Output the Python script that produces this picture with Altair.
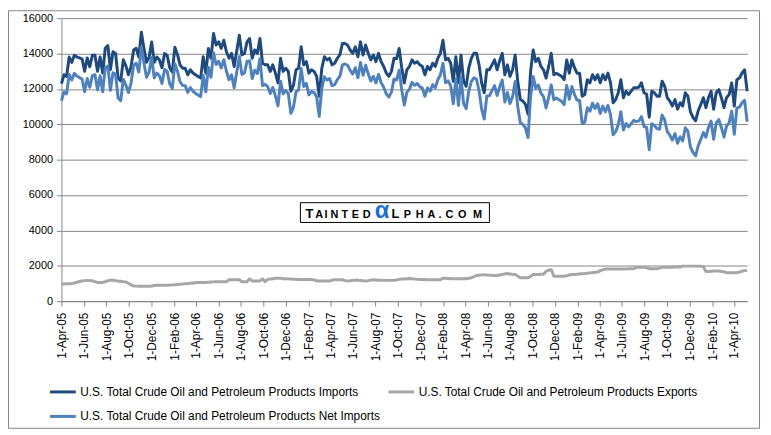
import altair as alt
import pandas as pd

# ---------------- data (weekly, thousand barrels per day) ----------------
first_week = "2005-04-01"
last_axis_day = "2010-05-07"
tick_start = "2005-04-01"
tick_end = "2010-04-01"

imports = [
    12300, 12800, 12700, 13800, 13500, 13900, 13800, 13750, 13700, 13000,
    13750, 13250, 13900, 13900, 13000, 13800, 12900, 14300, 14450, 13100,
    14100, 14000, 12600, 12450, 13650, 13300, 12800, 13250, 14200, 14300,
    13800, 15200, 14300, 13500, 13800, 14650, 13500, 13800, 13650, 13200,
    14000, 13900, 13200, 12950, 14350, 13950, 13360, 13170, 13170, 12800,
    13080, 12900, 12800, 12700, 12620, 13820, 12890, 14290, 13730, 15130,
    14480, 14660, 14290, 14750, 14100, 13730, 14010, 13270, 14150, 15030,
    13920, 14000, 14660, 14850, 13730, 14200, 14010, 14850, 13450, 13360,
    13360, 12990, 13360, 12890, 12340, 13730, 12990, 13170, 12990, 11870,
    12200, 13080, 13170, 14380, 13360, 13540, 12890, 13080, 12990, 12710,
    11590, 13170, 13820, 13640, 13730, 13360, 13450, 13730, 13920, 14570,
    14570, 14475, 14200, 14010, 14380, 13820, 14660, 13920, 14475, 14010,
    13640, 13920, 13540, 14010, 13540, 13270, 12900, 12710, 12990, 13730,
    13700, 14290, 13200, 12340, 13080, 13270, 13640, 13450, 13540, 13360,
    13270, 12800, 13270, 13080, 13450, 13270, 13730, 14010, 14750, 13640,
    13730, 13450, 12430, 13820, 12340, 13920, 12430, 12150, 13170, 13730,
    14010, 14010, 13360, 12340, 11780, 13080, 13080, 13360, 13640, 13080,
    13600, 14010, 12800, 13360, 12710, 13080, 13920, 12430, 11400, 11310,
    11120, 10570, 13000, 14200, 13540, 13730, 13270, 13080, 12610, 13270,
    14010, 12800, 12890, 12800, 12710, 12520, 13640, 12890, 13640, 13200,
    12890, 12890, 11590, 11680, 12520, 12340, 12800, 12520, 12800, 12340,
    12800, 12520, 12890, 12340, 11220, 11400, 11780, 12520, 11500, 11870,
    11680, 11870, 12060, 12060, 12100, 12340, 11780, 11700, 10400, 11870,
    11780, 11590, 11590, 12430, 12150, 11500, 11310, 11030, 11400, 10850,
    11220, 11030, 11780, 11590, 10700, 10380, 10200, 10760, 11120, 11500,
    10940, 11500, 11870, 10850, 11780, 11960, 11500, 10940, 11500, 11680,
    12340, 11030, 12520, 12610, 12900, 13080, 11870,
]

exports = [
    970, 975, 980, 985, 990, 1020, 1070, 1110, 1140, 1160,
    1165, 1160, 1150, 1100, 1060, 1055, 1060, 1100, 1150, 1180,
    1190, 1160, 1130, 1120, 1100, 1090, 1010, 920, 860, 850,
    845, 840, 840, 845, 845, 860, 880, 900, 900, 900,
    900, 905, 910, 920, 930, 945, 955, 970, 985, 995,
    1010, 1030, 1045, 1050, 1055, 1060, 1060, 1070, 1080, 1090,
    1100, 1100, 1100, 1100, 1100, 1210, 1210, 1210, 1210, 1210,
    1100, 1100, 1100, 1265, 1140, 1140, 1140, 1140, 1265, 1100,
    1230, 1250, 1270, 1290, 1300, 1290, 1270, 1265, 1260, 1250,
    1240, 1235, 1230, 1230, 1230, 1230, 1230, 1230, 1200, 1150,
    1140, 1140, 1140, 1140, 1140, 1180, 1210, 1210, 1210, 1210,
    1160, 1140, 1150, 1170, 1180, 1190, 1170, 1150, 1140, 1160,
    1190, 1210, 1200, 1185, 1180, 1175, 1175, 1175, 1175, 1175,
    1200, 1230, 1250, 1255, 1270, 1285, 1270, 1250, 1235, 1230,
    1225, 1220, 1215, 1210, 1210, 1210, 1210, 1210, 1300, 1290,
    1280, 1270, 1265, 1265, 1265, 1265, 1265, 1265, 1290, 1320,
    1380, 1450, 1470, 1485, 1485, 1480, 1470, 1460, 1455, 1450,
    1480, 1510, 1540, 1560, 1540, 1520, 1505, 1420, 1320, 1320,
    1320, 1320, 1400, 1505, 1510, 1510, 1515, 1520, 1690, 1750,
    1780, 1410, 1410, 1410, 1410, 1410, 1440, 1480, 1505, 1510,
    1520, 1540, 1550, 1560, 1580, 1600, 1610, 1630, 1640, 1725,
    1770, 1815, 1815, 1815, 1815, 1815, 1815, 1815, 1820, 1825,
    1830, 1835, 1835, 1910, 1910, 1910, 1910, 1880, 1835, 1835,
    1835, 1835, 1870, 1910, 1910, 1915, 1920, 1920, 1925, 1925,
    1925, 1980, 1980, 1980, 1980, 1980, 1980, 1980, 1975, 1960,
    1670, 1680, 1690, 1700, 1705, 1700, 1680, 1670, 1600, 1600,
    1600, 1600, 1610, 1640, 1690, 1725, 1725,
]

net_imports = [
    11330, 11825, 11720, 12815, 12510, 12880, 12730, 12640, 12560, 11840,
    12585, 12090, 12750, 12800, 11940, 12745, 11840, 13200, 13300, 11920,
    12910, 12840, 11470, 11330, 12550, 12210, 11790, 12330, 13340, 13450,
    12955, 14360, 13460, 12655, 12955, 13790, 12620, 12900, 12750, 12300,
    13100, 12995, 12290, 12030, 13420, 13005, 12405, 12200, 12185, 11805,
    12070, 11870, 11755, 11650, 11565, 12760, 11830, 13220, 12650, 14040,
    13380, 13560, 13190, 13650, 13000, 12520, 12800, 12060, 12940, 13820,
    12820, 12900, 13560, 13585, 12590, 13060, 12870, 13710, 12185, 12260,
    12130, 11740, 12090, 11600, 11040, 12440, 11720, 11905, 11730, 10620,
    10960, 11845, 11940, 13150, 12130, 12310, 11660, 11850, 11790, 11560,
    10450, 12030, 12680, 12500, 12590, 12180, 12240, 12520, 12710, 13360,
    13410, 13335, 13050, 12840, 13200, 12630, 13490, 12770, 13335, 12850,
    12450, 12710, 12340, 12825, 12360, 12095, 11725, 11535, 11815, 12555,
    12500, 13060, 11950, 11085, 11810, 11985, 12370, 12200, 12305, 12130,
    12045, 11580, 12055, 11870, 12240, 12060, 12520, 12800, 13450, 12350,
    12450, 12180, 11165, 12555, 11075, 12655, 11165, 10885, 11880, 12410,
    12630, 12560, 11890, 10855, 10295, 11600, 11610, 11900, 12185, 11630,
    12120, 12500, 11260, 11800, 11170, 11560, 12415, 11010, 10080, 9990,
    9800, 9250, 11600, 12695, 12030, 12220, 11755, 11560, 10920, 11520,
    12230, 11390, 11480, 11390, 11300, 11110, 12200, 11410, 12135, 11690,
    11370, 11350, 10040, 10120, 10940, 10740, 11190, 10890, 11160, 10615,
    11030, 10705, 11075, 10525, 9405, 9585, 9965, 10705, 9680, 10045,
    9850, 10035, 10225, 10150, 10190, 10430, 9870, 9820, 8565, 10035,
    9945, 9755, 9720, 10520, 10240, 9585, 9390, 9110, 9475, 8925,
    9295, 9050, 9800, 9610, 8720, 8400, 8220, 8780, 9145, 9540,
    9270, 9820, 10180, 9150, 10075, 10260, 9820, 9270, 9900, 10080,
    10740, 9430, 10910, 10970, 11210, 11355, 10145,
]

series_names = [
    "U.S. Total Crude Oil and Petroleum Products Imports",
    "U.S. Total Crude Oil and Petroleum Products Exports",
    "U.S. Total Crude Oil and Petroleum Products Net Imports",
]
series_colors = ["#1F4A7E", "#A6A6A6", "#4F81BD"]

# ---------------- build table ----------------
def to_ms(idx):
    return [int(v) for v in (pd.DatetimeIndex(idx).asi8 // 10**6)]

weeks = pd.date_range(first_week, periods=len(imports), freq="7D")
week_ms = to_ms(weeks)
rows = []
for k, (name, vals) in enumerate(zip(series_names, [imports, exports, net_imports])):
    for t, v in zip(week_ms, vals):
        rows.append({"t": t, "v": v, "s": name, "k": k})
df = pd.DataFrame(rows)

tick_ms = to_ms(pd.date_range(tick_start, tick_end, freq="2MS"))
x_domain = to_ms(pd.DatetimeIndex([first_week, last_axis_day]))

FONT = "Liberation Sans"
GRID = "#868686"

lines = alt.Chart(df).mark_line(strokeWidth=3, strokeJoin="round").encode(
    x=alt.X(
        "t:T",
        scale=alt.Scale(type="utc", domain=x_domain),
        axis=alt.Axis(
            values=tick_ms, format="%-d-%b-%y", labelAngle=-90, title=None,
            grid=False, tickSize=5, labelPadding=6, labelFontSize=12,
            labelOverlap=False, labelFlush=False,
        ),
    ),
    y=alt.Y(
        "v:Q",
        scale=alt.Scale(domain=[0, 16000], nice=False),
        axis=alt.Axis(
            values=list(range(0, 16001, 2000)), title=None, grid=True,
            tickSize=5, labelPadding=4, labelFontSize=11, format="d",
        ),
    ),
    color=alt.Color(
        "s:N",
        scale=alt.Scale(domain=series_names, range=series_colors),
        legend=alt.Legend(
            title=None, orient="none", legendX=-13, legendY=363, columns=2,
            direction="horizontal",
            symbolType="stroke", symbolSize=676, symbolStrokeWidth=3,
            labelFont=FONT, labelFontSize=12, labelColor="black",
            labelLimit=500, labelOffset=3, columnPadding=1, rowPadding=4,
            padding=0,
        ),
    ),
    order=alt.Order("k:Q"),
)

one = pd.DataFrame({"a": [0]})

frame = alt.Chart(one).mark_rect(fill=None, stroke=GRID, strokeWidth=1).encode(
    x=alt.value(-53.5), x2=alt.value(705.5), y=alt.value(-7.5), y2=alt.value(414.5)
)

badge = alt.Chart(one).mark_rect(fill="white", stroke="black", strokeWidth=1).encode(
    x=alt.value(241.5), x2=alt.value(432.5), y=alt.value(186.5), y2=alt.value(206.5)
)

letters = [
    ("T", 250.5, 13, "black"), ("A", 260.5, 11, "black"), ("I", 267.5, 11, "black"),
    ("N", 276, 11, "black"), ("T", 286.5, 11, "black"), ("E", 297, 11, "black"),
    ("D", 308.5, 11, "black"), ("α", 324, 24, "#1F6FD0"), ("L", 337.5, 13, "black"),
    ("P", 349.5, 11, "black"), ("H", 362, 11, "black"), ("A", 374, 11, "black"),
    (".", 382.5, 11, "black"), ("C", 392, 11, "black"), ("O", 405, 11, "black"),
    ("M", 420.5, 11, "black"),
]
marks = []
for ch, xc, fs, col in letters:
    marks.append(
        alt.Chart(one).mark_text(
            text=ch, font=FONT, fontWeight="bold", fontSize=fs, color=col,
            align="center", baseline="alphabetic",
        ).encode(x=alt.value(xc), y=alt.value(202))
    )

chart = alt.layer(frame, lines, badge, *marks).properties(
    width=693, height=286,
    autosize=alt.AutoSizeParams(type="none"),
    padding={"left": 54, "top": 8, "right": 16, "bottom": 132},
    background="white",
).configure_view(stroke=None).configure_axis(
    labelFont=FONT, labelColor="black", domainColor=GRID, tickColor=GRID,
    gridColor=GRID, domainWidth=1, gridWidth=1,
)

chart.save("out.html", embed_options={"renderer": "svg", "actions": False})
